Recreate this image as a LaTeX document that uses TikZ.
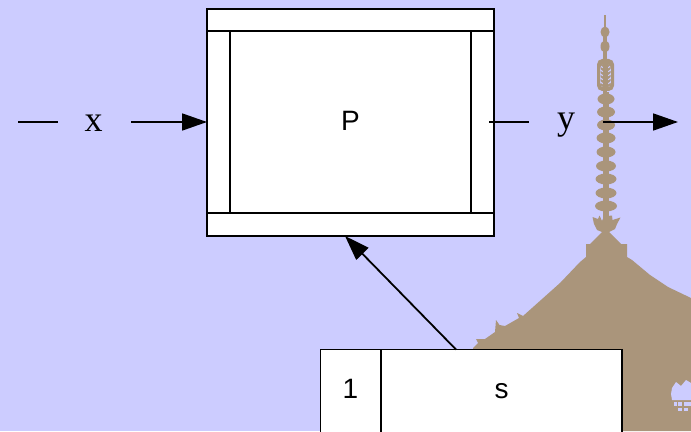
\documentclass[tikz,border=0pt]{standalone}
\usepackage{fontspec}
\setmainfont{Liberation Serif}
\newfontfamily\labelsans{Liberation Sans}
\usetikzlibrary{arrows.meta}
\definecolor{sky}{HTML}{CCCCFF}
\definecolor{pagoda}{HTML}{AA957B}
\tikzset{
  wire/.style={draw=black,line width=1.8*0.75pt},
  flow/.style={wire,-{Triangle[length=25*0.75pt,width=17*0.75pt]}},
  panel/.style={draw=black,fill=white,line width=1.8*0.75pt},
  serifvar/.style={font=\fontsize{27pt}{27pt}\selectfont,inner sep=0pt},
  sansvar/.style={font=\labelsans\fontsize{21pt}{21pt}\selectfont,inner sep=0pt},
  bead/.style={fill=pagoda,draw=none},
}
\begin{document}
\begin{tikzpicture}[x=0.75pt,y=-0.75pt]
\useasboundingbox (0,0) rectangle (691,431);
\fill[sky] (0,0) rectangle (691,431);

% pagoda spire and roof
\fill[pagoda] (604,15) rectangle (606,30);
\fill[pagoda] (603,30) rectangle (607,92);
\fill[pagoda] (603,92) rectangle (609,236);
\foreach \cy/\rx/\ry in {32/4.5/5.5,46.5/4.5/6}
  \fill[bead] (605,\cy) ellipse [x radius=\rx,y radius=\ry];
\foreach \cy/\rx/\ry in {99/8.5/5.5,112/9/5.5,125/9/5.5,138/9.5/5.5,152/9.5/5.5,166/10/5.5,179/10.5/5.5,193/10.5/5.5,206/11/5.5}
  \fill[bead] (606,\cy) ellipse [x radius=\rx,y radius=\ry];
\fill[pagoda,even odd rule,rounded corners=4pt]
  (597,59) rectangle (614,91)
  (600,63) rectangle (611,88);
\fill[pagoda] (603.5,62) rectangle (607.5,90);
\foreach \cy in {65,69,73,77,81,85}{
  \fill[pagoda] (604,\cy) -- (600.5,\cy-2) -- (600.5,\cy) -- (604,\cy+3) -- cycle;
  \fill[pagoda] (607,\cy) -- (610.5,\cy-2) -- (610.5,\cy) -- (607,\cy+3) -- cycle;
}
\fill[pagoda]
  (592.5,217) -- (598,219) -- (599.5,215.5) -- (602,221) -- (604,216)
  -- (607.5,216) -- (612,215.5) -- (612.5,220) -- (620.5,217.5)
  -- (617,224) -- (615,229) -- (609,232) -- (621,244) -- (627,244) -- (627,257)
  -- (632,260) -- (650,275) -- (668,287) -- (691,298) -- (691,431)
  -- (473,431) -- (473,348) -- (478,343) -- (476,339) -- (485,339) -- (495,332)
  -- (496,320) -- (499.5,325) -- (505,326) -- (519,318) -- (517,313)
  -- (523,316) -- (560,283) -- (580,262) -- (586,257) -- (586,244) -- (590,244)
  -- (602,232) -- (597,230) -- (594,224) -- cycle;

% opening and lattice low on the right
\fill[sky] (691,383) -- (686,380) -- (681,386) -- (676,382) -- (672,388)
  -- (671,394) -- (672,400) -- (691,400) -- cycle;
\fill[sky] (674,402) rectangle (676.5,405.5);
\fill[sky] (677.5,402) rectangle (681.5,405.5);
\fill[sky] (684,402) rectangle (691,405.5);
\fill[sky] (677.5,408) rectangle (681.5,411);
\fill[sky] (684,408) rectangle (688,411);

% plant block
\draw[panel] (207,9) rectangle (494,236);
\coordinate (pWest) at (207,122);
\coordinate (pSouth) at (345,236);
\draw[wire] (207,31) -- (494,31);
\draw[wire] (207,213) -- (494,213);
\draw[wire] (230,31) -- (230,213);
\draw[wire] (471,31) -- (471,213);
\node[sansvar] (labP) at (350.5,121) {P};

% scheduler block, running off the lower edge
\draw[panel] (320.5,349.5) -- (622,349.5) -- (622,440) -- (320.5,440) -- cycle;
\draw[wire] (381,349.5) -- (381,440);
\coordinate (sTop) at (456,349.5);
\node[sansvar] (lab1) at (350.5,389) {1};
\node[sansvar] (labS) at (501.5,391) {s};

% signals
\node[serifvar] (labX) at (93.5,123) {x};
\node[serifvar] (labY) at (566,125) {y};
\coordinate (xStart) at (18,122);
\coordinate (xGapEnd) at (58,122);
\coordinate (xResume) at (131,122);
\coordinate (yStart) at (489,122);
\coordinate (yGapEnd) at (529,122);
\coordinate (yResume) at (603,122);
\coordinate (yEnd) at (678,122);
\draw[wire] (xStart) -- (xGapEnd);
\draw[flow] (xResume) -- (pWest);
\draw[wire] (yStart) -- (yGapEnd);
\draw[flow] (yResume) -- (yEnd);
\draw[flow] (sTop) -- (pSouth);
\end{tikzpicture}
\end{document}
